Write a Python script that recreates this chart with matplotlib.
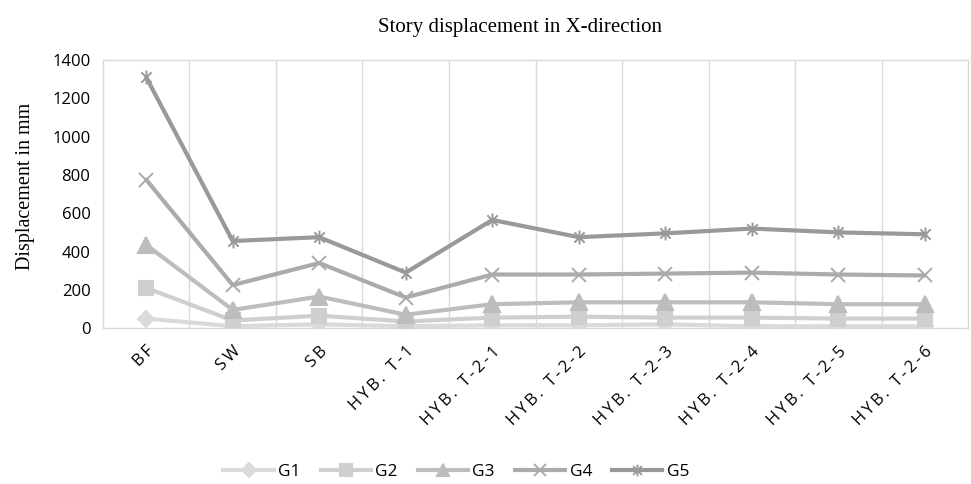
import matplotlib
matplotlib.use("Agg")
import matplotlib.pyplot as plt
from matplotlib.path import Path
from matplotlib.lines import Line2D

categories = ["BF", "SW", "SB", "HYB. T-1", "HYB. T-2-1", "HYB. T-2-2",
              "HYB. T-2-3", "HYB. T-2-4", "HYB. T-2-5", "HYB. T-2-6"]
g1 = [50, 10, 20, 10, 15, 15, 20, 10, 10, 10]
g2 = [210, 40, 65, 35, 55, 60, 55, 55, 50, 50]
g3 = [435, 95, 165, 70, 125, 135, 135, 135, 125, 125]
g4 = [775, 225, 340, 160, 280, 280, 285, 290, 280, 275]
g5 = [1310, 455, 475, 290, 565, 475, 495, 520, 500, 490]
y_ticks = [0, 200, 400, 600, 800, 1000, 1200, 1400]

# asterisk marker: an X crossed by a vertical stroke
star = Path([(-1, -1), (1, 1), (-1, 1), (1, -1), (0, -1.35), (0, 1.35)],
            [Path.MOVETO, Path.LINETO, Path.MOVETO, Path.LINETO,
             Path.MOVETO, Path.LINETO])

series = [
    ("G1", g1, "#dadada", "D", 8, 1.5),
    ("G2", g2, "#cfcfcf", "s", 10, 1.5),
    ("G3", g3, "#bdbdbd", "^", 11, 1.5),
    ("G4", g4, "#ababab", "x", 10, 1.4),
    ("G5", g5, "#999999", star, 10, 1.4),
]

sans = ["Open Sans", "DejaVu Sans"]
serif = ["Liberation Serif", "DejaVu Serif"]

fig = plt.figure(figsize=(9.71, 4.84), dpi=100)
ax = fig.add_axes([0.106, 0.322, 0.891, 0.554])

x = list(range(len(categories)))
handles = []
for name, vals, col, mk, ms, mew in series:
    ax.plot(x, vals, color=col, lw=3, marker=mk, ms=ms,
            markerfacecolor=col, markeredgecolor=col, markeredgewidth=mew,
            solid_capstyle="round", zorder=3)
    handles.append(Line2D([], [], color=col, lw=3, marker=mk, ms=ms * 0.85,
                          markerfacecolor=col, markeredgecolor=col,
                          markeredgewidth=mew))

ax.set_xlim(-0.5, len(categories) - 0.5)
ax.set_ylim(0, 1400)
ax.set_yticks(y_ticks)
ax.set_yticklabels([str(v) for v in y_ticks], family=sans, fontsize=12)

# vertical gridlines between categories
for b in range(1, len(categories)):
    ax.axvline(b - 0.5, color="#d9d9d9", lw=1, zorder=1)

for s in ax.spines.values():
    s.set_color("#d9d9d9")
    s.set_linewidth(1)
ax.tick_params(axis="y", length=0, pad=9)
ax.tick_params(axis="x", length=0, pad=11)

spaced = ["\u2009".join(c for c in lab) for lab in categories]
ax.set_xticks(x)
ax.set_xticklabels(spaced, rotation=45, ha="right", va="top",
                   rotation_mode="anchor", family=sans, fontsize=12)

ax.set_ylabel("Displacement in mm", family=serif, fontsize=14.5)
ax.yaxis.set_label_coords(-0.0785, 0.53)
fig.text(0.536, 0.944, "Story displacement in X-direction", family=serif,
         fontsize=15, ha="center", va="center")

fig.legend(handles=handles, labels=[s[0] for s in series], loc="center",
           bbox_to_anchor=(0.470, 0.024), ncol=5, frameon=False,
           prop={"family": sans, "size": 12.5}, handlelength=2.9,
           columnspacing=1.15, handletextpad=0.25)

fig.savefig("out.png", dpi=100)
